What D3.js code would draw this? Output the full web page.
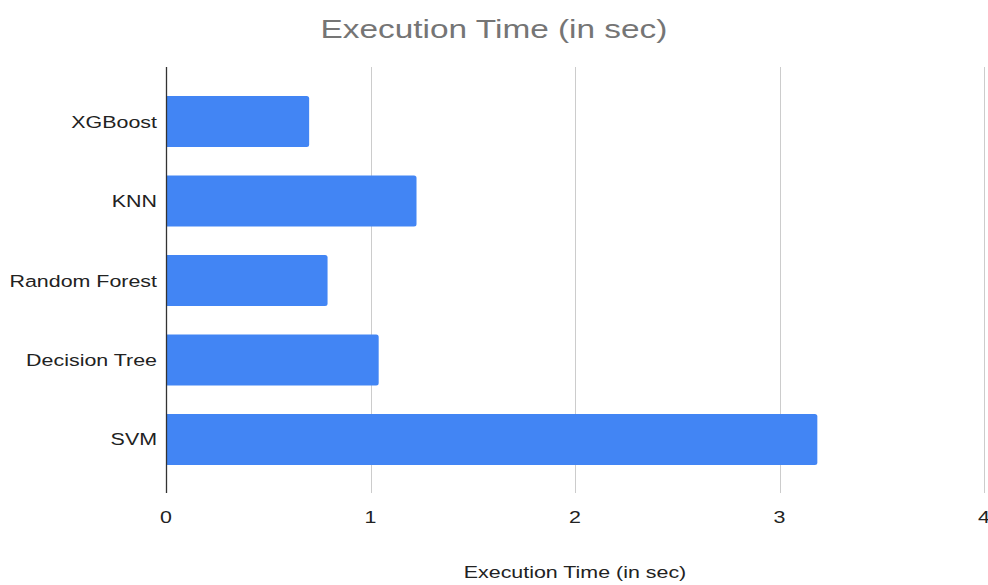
<!DOCTYPE html>
<meta charset="utf-8">
<head>
  <title>Execution Time</title>
  <script src="https://d3js.org/d3.v7.min.js"></script>
  <style>
    body { margin: 0; background: #fff; }
    text { font-family: "Liberation Sans", Arial, sans-serif; }
    .grid line { stroke: #cccccc; stroke-width: 1px; }
  </style>
</head>
<body>
  <svg width="988" height="585"></svg>
  <script>
    var models = ["XGBoost", "KNN", "Random Forest", "Decision Tree", "SVM"];
    var times = [0.70, 1.225, 0.79, 1.04, 3.185];
    var xTicks = [0, 1, 2, 3, 4];
    var chartTitle = "Execution Time (in sec)";
    var xTitle = "Execution Time (in sec)";

    var svg = d3.select("svg"),
      plotLeft = 166, plotRight = 984, plotTop = 67, plotBottom = 493,
      stretch = 1.26; // text in the picture is a bit wider than normal

    var x = d3.scaleLinear().domain([0, 4]).range([plotLeft, plotRight]);
    var y = d3.scaleBand().domain(models).range([plotTop, plotBottom]).padding(0.36);

    // vertical gridlines
    svg.append("g")
      .attr("class", "grid")
      .selectAll("line")
      .data(xTicks.slice(1))
      .enter().append("line")
        .attr("x1", function(d) { return Math.round(x(d)) + 0.5; })
        .attr("x2", function(d) { return Math.round(x(d)) + 0.5; })
        .attr("y1", plotTop)
        .attr("y2", plotBottom);

    // bars, right end slightly rounded
    svg.append("g")
      .selectAll("path")
      .data(models)
      .enter().append("path")
        .attr("fill", "#4285f4")
        .attr("d", function(d, i) {
          var x0 = x(0), x1 = x(times[i]), y0 = y(d) + 0.5, h = y.bandwidth(), r = 2.5;
          return "M" + x0 + "," + y0 + "H" + (x1 - r) +
            "Q" + x1 + "," + y0 + " " + x1 + "," + (y0 + r) +
            "V" + (y0 + h - r) +
            "Q" + x1 + "," + (y0 + h) + " " + (x1 - r) + "," + (y0 + h) +
            "H" + x0 + "Z";
        });

    // baseline axis
    svg.append("line")
      .attr("x1", plotLeft + 0.5).attr("x2", plotLeft + 0.5)
      .attr("y1", plotTop).attr("y2", plotBottom)
      .attr("stroke", "#333").attr("stroke-width", 1.3);

    function label(txt, px, py, size, color, anchor) {
      return svg.append("text")
        .attr("transform", "translate(" + px + "," + py + ") scale(" + stretch + ",1)")
        .attr("text-anchor", anchor)
        .attr("font-size", size)
        .attr("fill", color)
        .text(txt);
    }

    // category labels
    models.forEach(function(m) {
      label(m, 157, y(m) + y.bandwidth() / 2 + 6.5, 17, "#222", "end");
    });

    // x tick labels
    xTicks.forEach(function(t) {
      label(t, x(t), 523, 17, "#222", "middle");
    });

    label(chartTitle, 494, 38, 26.5, "#757575", "middle");
    label(xTitle, (plotLeft + plotRight) / 2, 578, 17, "#222", "middle");
  </script>
</body>
